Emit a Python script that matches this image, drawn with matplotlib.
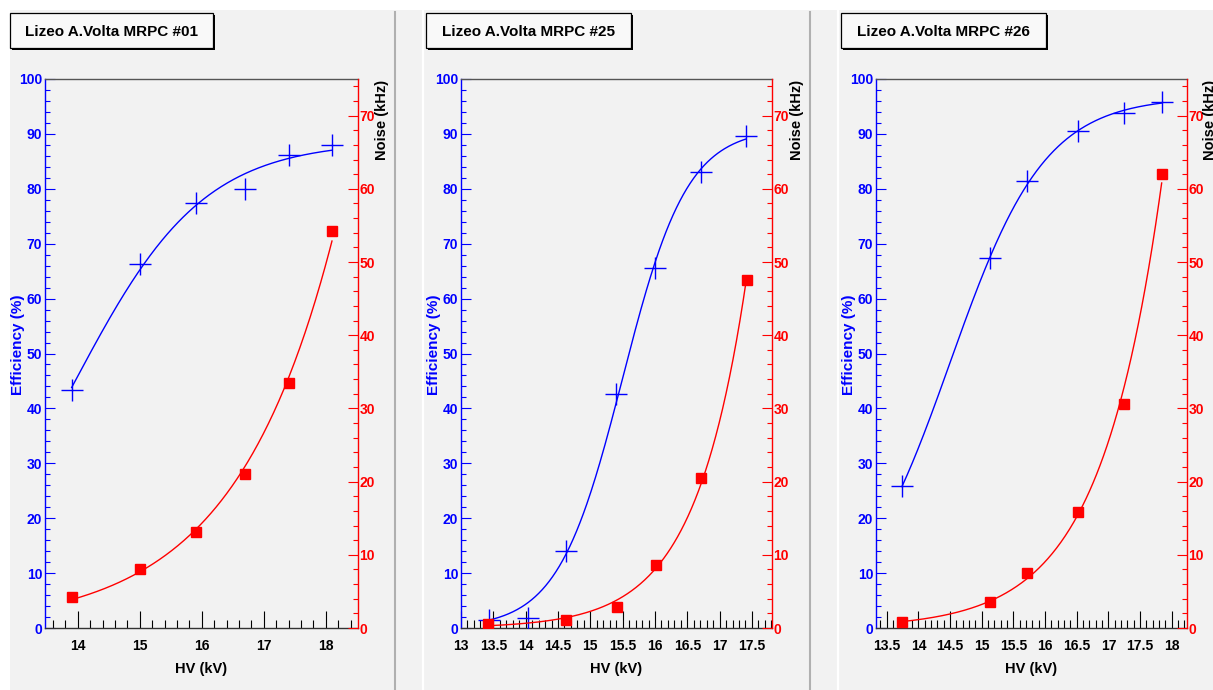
"""
Efficiency / noise vs HV for three MRPC chambers (ROOT-style canvas, 3 pads).
Blue crosses = efficiency (left axis), red squares = noise (right axis).
"""
import matplotlib

matplotlib.use("Agg")
import matplotlib.pyplot as plt
import numpy as np
from matplotlib.patches import Rectangle
from matplotlib.ticker import FormatStrFormatter, MultipleLocator

plt.rcParams["font.family"] = ["Liberation Sans", "DejaVu Sans"]
plt.rcParams["font.weight"] = "bold"

W, H = 1213, 690
BLUE = "#0000ff"
RED = "#ff0000"
BG = "#f2f2f2"

titles = ["Lizeo A.Volta MRPC #01", "Lizeo A.Volta MRPC #25", "Lizeo A.Volta MRPC #26"]

# MRPC #01
hv_eff_01 = [13.9, 15.0, 15.9, 16.7, 17.4, 18.1]
eff_01 = [43.4, 66.3, 77.4, 80.0, 86.2, 88.0]
hv_noise_01 = [13.9, 15.0, 15.9, 16.7, 17.4, 18.1]
noise_01 = [4.2, 8.1, 13.1, 21.0, 33.5, 54.2]

# MRPC #25
hv_eff_25 = [13.43, 14.03, 14.63, 15.40, 16.00, 16.71, 17.41]
eff_25 = [1.4, 1.8, 14.0, 42.6, 65.6, 83.1, 89.6]
hv_noise_25 = [13.42, 14.62, 15.42, 16.02, 16.71, 17.42]
noise_25 = [0.55, 1.1, 2.9, 8.6, 20.5, 47.5]

# MRPC #26
hv_eff_26 = [13.74, 15.13, 15.72, 16.52, 17.24, 17.84]
eff_26 = [25.9, 67.4, 81.4, 90.5, 93.8, 95.8]
hv_noise_26 = [13.74, 15.13, 15.72, 16.52, 17.24, 17.84]
noise_26 = [0.8, 3.5, 7.5, 15.8, 30.6, 62.0]

datasets = [
    (hv_eff_01, eff_01, hv_noise_01, noise_01),
    (hv_eff_25, eff_25, hv_noise_25, noise_25),
    (hv_eff_26, eff_26, hv_noise_26, noise_26),
]

# layout in canvas pixels
pads = [
    dict(box=(10, 13, 213, 48), frame=(45, 79, 358, 628), xlim=(13.47, 18.52),
         major=1.0, minor=0.2, eff_x=18, noise_x=382),
    dict(box=(426, 13, 631, 48), frame=(461, 79, 772, 628), xlim=(13.0, 17.81),
         major=0.5, minor=0.1, eff_x=434, noise_x=797),
    dict(box=(841, 13, 1046, 48), frame=(876, 79, 1187, 628), xlim=(13.33, 18.24),
         major=0.5, minor=0.1, eff_x=849, noise_x=1210),
]


def fit_sigmoid(x, y):
    """A / (1 + exp(-(x-x0)/w)); grid over x0,w, A solved linearly."""
    x = np.asarray(x, float)
    y = np.asarray(y, float)
    x0s = np.linspace(12.0, 18.0, 241)[:, None, None]
    ws = np.linspace(0.15, 2.5, 236)[None, :, None]
    f = 1.0 / (1.0 + np.exp(-(x[None, None, :] - x0s) / ws))
    a = (f * y).sum(-1) / (f * f).sum(-1)
    res = ((a[..., None] * f - y) ** 2).sum(-1)
    i, j = np.unravel_index(np.argmin(res), res.shape)
    A, x0, w = a[i, j], x0s[i, 0, 0], ws[0, j, 0]
    return lambda t: A / (1.0 + np.exp(-(t - x0) / w))


def fit_expo(x, y):
    x = np.asarray(x, float)
    y = np.asarray(y, float)
    b, a = np.polyfit(x, np.log(y), 1, w=np.sqrt(y))
    return lambda t: np.exp(a + b * t)


def px_axes(fig, x0, y0, x1, y1):
    return fig.add_axes([x0 / W, 1 - y1 / H, (x1 - x0) / W, (y1 - y0) / H])


fig = plt.figure(figsize=(W / 100, H / 100), dpi=100, facecolor="white")

# canvas background, pad separators, title boxes
cv = fig.add_axes([0, 0, 1, 1])
cv.set_xlim(0, W)
cv.set_ylim(H, 0)
cv.axis("off")
cv.add_patch(Rectangle((10, 10), W - 10, H - 10, facecolor=BG, edgecolor="none"))
for xs in (423, 838):
    cv.plot([xs, xs], [10, H], color="white", lw=1.6)
for xs in (395, 810):
    cv.plot([xs, xs], [12, H], color="#b0b0b0", lw=1.5)

for title, pad in zip(titles, pads):
    bx0, by0, bx1, by1 = pad["box"]
    cv.add_patch(Rectangle((bx0 + 2, by0 + 2), bx1 - bx0, by1 - by0,
                           facecolor="black", edgecolor="none"))
    cv.add_patch(Rectangle((bx0, by0), bx1 - bx0, by1 - by0,
                           facecolor="#f9f9f9", edgecolor="black", lw=0.9))
    cv.text((bx0 + bx1) / 2, (by0 + by1) / 2 + 1, title, ha="center", va="center",
            fontsize=11, fontweight="bold", color="black")

for (hv_e, eff, hv_n, noise), pad in zip(datasets, pads):
    fx0, fy0, fx1, fy1 = pad["frame"]
    fw, fh = fx1 - fx0, fy1 - fy0
    ax = px_axes(fig, fx0, fy0, fx1, fy1)
    ax.set_facecolor(BG)
    ax2 = ax.twinx()

    ax.set_xlim(*pad["xlim"])
    ax.set_ylim(0, 100)
    ax2.set_ylim(0, 75)

    # fits drawn over the data range
    t = np.linspace(min(hv_e), max(hv_e), 300)
    ax.plot(t, fit_sigmoid(hv_e, eff)(t), color=BLUE, lw=1.0, zorder=2)
    ax.plot(hv_e, eff, ls="none", marker="+", ms=16, mew=1.0, color=BLUE, zorder=3)

    tn = np.linspace(min(hv_n), max(hv_n), 300)
    ax2.plot(tn, fit_expo(hv_n, noise)(tn), color=RED, lw=1.0, zorder=2)
    ax2.plot(hv_n, noise, ls="none", marker="s", ms=7, color=RED, mec=RED, zorder=3)

    # spines
    ax.spines["right"].set_visible(False)
    ax.spines["left"].set_color(BLUE)
    ax.spines["top"].set_color("#555555")
    ax.spines["bottom"].set_color("#333333")
    for s in ("left", "top", "bottom"):
        ax2.spines[s].set_visible(False)
    ax2.spines["right"].set_color(RED)
    for a_ in (ax, ax2):
        for s in a_.spines.values():
            s.set_linewidth(1.0)

    # x axis
    ax.xaxis.set_major_locator(MultipleLocator(pad["major"]))
    ax.xaxis.set_minor_locator(MultipleLocator(pad["minor"]))
    ax.xaxis.set_major_formatter(FormatStrFormatter("%g"))
    ax.tick_params(axis="x", which="major", direction="in", length=12.5, width=0.8,
                   color="black", labelsize=10, pad=8)
    ax.tick_params(axis="x", which="minor", direction="in", length=5.8, width=0.8,
                   color="black")

    # efficiency axis
    ax.yaxis.set_major_locator(MultipleLocator(10))
    ax.yaxis.set_minor_locator(MultipleLocator(2))
    ax.tick_params(axis="y", which="major", direction="in", length=7.2, width=0.8,
                   color=BLUE, labelcolor=BLUE, labelsize=10, pad=2)
    ax.tick_params(axis="y", which="minor", direction="in", length=3.6, width=0.8,
                   color=BLUE)

    # noise axis
    ax2.yaxis.set_major_locator(MultipleLocator(10))
    ax2.yaxis.set_minor_locator(MultipleLocator(2))
    ax2.tick_params(axis="y", which="major", direction="in", length=7.2, width=0.8,
                    color=RED, labelcolor=RED, labelsize=10, pad=1)
    ax2.tick_params(axis="y", which="minor", direction="in", length=3.6, width=0.8,
                    color=RED)
    for lab in ax.get_xticklabels() + ax.get_yticklabels() + ax2.get_yticklabels():
        lab.set_fontweight("bold")

    # axis titles
    ax.set_xlabel("HV (kV)", fontsize=10.5, fontweight="bold", color="black")
    ax.xaxis.set_label_coords(0.5, -(669 - fy1) / fh)
    ax.xaxis.label.set_va("center")

    ax.set_ylabel("Efficiency (%)", fontsize=11, fontweight="bold", color=BLUE)
    ax.yaxis.set_label_coords((pad["eff_x"] - fx0) / fw, (fy1 - 345) / fh)
    ax.yaxis.label.set_va("center")
    ax.yaxis.label.set_ha("center")

    ax2.set_ylabel("Noise (kHz)", fontsize=10.5, fontweight="bold", color="black",
                   rotation=90)
    ax2.yaxis.set_label_coords((pad["noise_x"] - fx0) / fw, 0.998)
    ax2.yaxis.label.set_rotation_mode("anchor")
    ax2.yaxis.label.set_ha("right")
    ax2.yaxis.label.set_va("center")

fig.savefig("out.png", dpi=100, facecolor=fig.get_facecolor())
